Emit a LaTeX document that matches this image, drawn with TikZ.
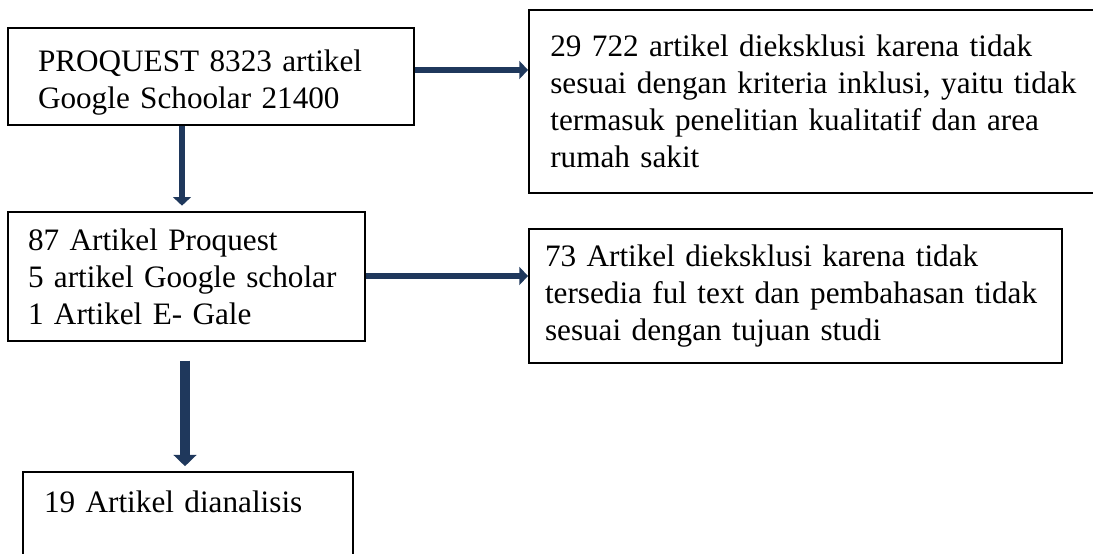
\documentclass[tikz,border=0pt]{standalone}
\usepackage{fontspec}
\setmainfont{Liberation Serif}
\usepackage{tikz}
\usetikzlibrary{arrows.meta}

\definecolor{navyarrow}{RGB}{31,56,92}

\tikzset{
  box/.style={draw=black, line width=0.75pt, anchor=north west, align=left,
    inner ysep=0pt, font=\fontsize{11.7}{13.9}\selectfont},
  thinarrow/.style={navyarrow, line width=2.6pt, -{Triangle[length=3.2pt,width=6.6pt]}},
  widearrow/.style={navyarrow, line width=3.8pt, -{Triangle[length=4.2pt,width=8.4pt]}}
}

\begin{document}
\begin{tikzpicture}[x=0.375pt,y=-0.375pt]
\path[use as bounding box] (0,0) rectangle (1093,554);
\clip (0,0) rectangle (1093,554); % boxes run off the page

\node[box, inner xsep=11.25pt, text width=129.75pt, minimum height=36.4pt] (src) at (7,27)
  {\rule{0pt}{12.6pt}PROQUEST 8323 artikel\\Google Schoolar 21400};
\node[box, inner xsep=8pt, text width=204pt, minimum height=68.6pt] (excl1) at (528,9)
  {29 722 artikel dieksklusi karena tidak\\sesuai dengan kriteria inklusi, yaitu tidak\\termasuk penelitian kualitatif dan area\\rumah sakit};
\node[box, inner xsep=7.5pt, text width=118.9pt, minimum height=48.4pt] (mid) at (7,211)
  {87 Artikel Proquest\\5 artikel Google scholar\\1 Artikel E- Gale};
\node[box, inner xsep=6pt, text width=187.9pt, minimum height=50.25pt] (excl2) at (528,228)
  {73 Artikel dieksklusi karena tidak\\tersedia ful text dan pembahasan tidak\\sesuai dengan tujuan studi};
\node[box, inner xsep=7.9pt, text width=107.95pt, minimum height=36.4pt] (final) at (22,471)
  {19 Artikel dianalisis\\\mbox{}};

% arrows
\draw[thinarrow] (src.east |- 0,70) -- (excl1.west |- 0,70);
\draw[thinarrow, shorten >=2pt] (src.south -| 182,0) -- (mid.north -| 182,0);
\draw[thinarrow] (mid.east |- 0,276) -- (excl2.west |- 0,276);
\draw[widearrow, shorten <=7pt, shorten >=1.8pt] (mid.south -| 185,0) -- (final.north -| 185,0);
\end{tikzpicture}
\end{document}
